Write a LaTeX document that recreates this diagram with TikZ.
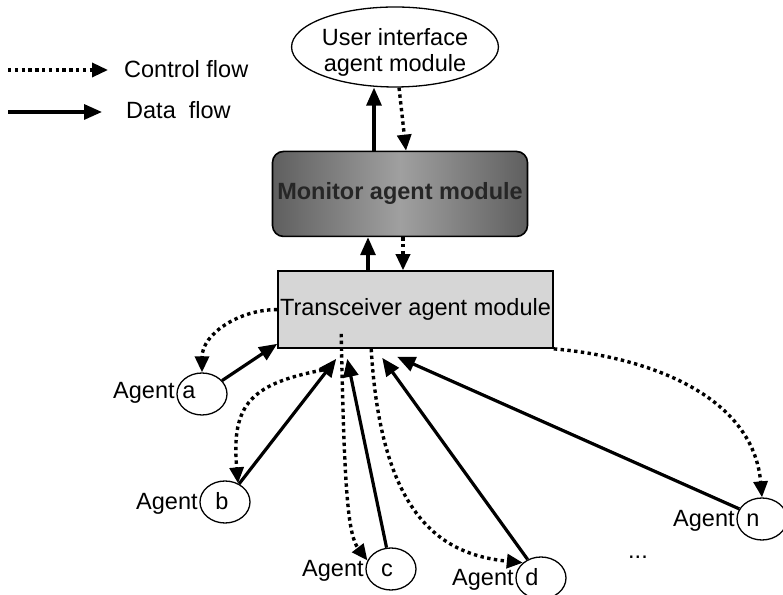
\documentclass[tikz,border=0pt]{standalone}
\usepackage{fontspec}
\setmainfont{Liberation Sans}
\usepackage{xcolor}
\definecolor{mondark}{RGB}{95,95,95}
\definecolor{monlight}{RGB}{160,160,160}
\definecolor{trfill}{RGB}{214,214,214}
\usepackage{tikz}
\usetikzlibrary{shapes.geometric, arrows.meta, positioning, calc}
\newcommand{\diagfont}{\fontsize{23.5bp}{26bp}\selectfont}
\tikzset{
  lbl/.style={font=\diagfont, inner sep=0pt},
  uimodule/.style={ellipse, draw, line width=1.3bp, minimum width=205bp,
    minimum height=80bp, inner sep=0pt, align=center, font=\diagfont,
    text height=50bp, text depth=0pt},
  monmodule/.style={draw=black, line width=1.6bp, rounded corners=11bp,
    left color=mondark, right color=mondark, middle color=monlight,
    minimum width=255bp, minimum height=85bp, inner sep=0pt,
    font=\diagfont\bfseries, text=black!85},
  trmodule/.style={draw, line width=1.6bp, fill=trfill,
    minimum width=275bp, minimum height=77bp, inner sep=0pt, font=\diagfont},
  agentell/.style={ellipse, draw, line width=1.3bp, minimum width=50bp,
    minimum height=42bp, inner sep=0pt},
  dataarrow/.style={-{Triangle[length=18bp,width=15bp]}, line width=3.2bp},
  ctrlarrow/.style={-{Triangle[length=16bp,width=14bp]}, line width=3.4bp,
    dash pattern=on 3.4bp off 3.4bp}
}

\begin{document}
\begin{tikzpicture}[x=1bp, y=1bp]
  \useasboundingbox (0,0) rectangle (783,595);

  % legend
  \coordinate (lgc-a) at (8,525);
  \coordinate (lgc-b) at (108,525);
  \coordinate (lgd-a) at (8,483);
  \coordinate (lgd-b) at (102,483);
  \node[lbl, anchor=base west] (lgc) at (124,517) {Control flow};
  \node[lbl, anchor=base west] (lgd) at (126,476) {Data\ \ flow};
  \draw[ctrlarrow] (lgc-a) -- (lgc-b);
  \draw[dataarrow] (lgd-a) -- (lgd-b);

  % modules
  \node[uimodule] (ui) at (395,548) {User interface\\agent module};
  \node[monmodule, below=63bp of ui, xshift=5bp] (mon) {Monitor agent module};
  \node[trmodule, below=33bp of mon, xshift=15.5bp] (tr) {Transceiver agent module};

  \draw[dataarrow] ([xshift=-26bp]mon.north) -- ([xshift=-26bp]mon.north |- ui.south);
  \draw[ctrlarrow] ([xshift=4bp]ui.south) -- ([xshift=6bp]mon.north);
  \draw[dataarrow] ([xshift=-47.5bp]tr.north) -- ([xshift=-47.5bp]tr.north |- mon.south);
  \draw[ctrlarrow] ([xshift=3bp]mon.south) -- ([xshift=3bp]mon.south |- tr.north);

  % agents
  \foreach \nm/\px/\py/\dx/\dy in {a/202/201/-13/-5, b/225/93/-3/-8,
      c/391/26/-4/-8, d/541/17/-9/-8, n/762/76/-9/-8} {
    \node[agentell] (ag-\nm) at (\px,\py) {};
    \node[lbl, anchor=base] (agt-\nm) at ([shift={(\dx,\dy)}]ag-\nm.center) {\nm};
    \node[lbl, anchor=base east, inner xsep=1.5bp] (agl-\nm)
      at (agt-\nm.base -| ag-\nm.west) {Agent};
  }
  \node[lbl, anchor=base] (more) at (638,36) {...};

  % data flow
  \draw[dataarrow] (ag-a) -- ([yshift=5bp]tr.south west);
  \draw[dataarrow] (ag-b) -- ([shift={(59,-10)}]tr.south west);
  \draw[dataarrow] (ag-c) -- ([shift={(70,-10)}]tr.south west);
  \draw[dataarrow] (ag-d) -- ([shift={(105,-9)}]tr.south west);
  \draw[dataarrow] (ag-n) -- ([shift={(120,-8)}]tr.south west);

  % control flow
  \draw[ctrlarrow] (tr.west) to[out=180, in=90] (ag-a.north);
  \draw[ctrlarrow] ([shift={(52,-20)}]tr.south west)
    to[out=190, in=95, looseness=1.4] (ag-b.55);
  \draw[ctrlarrow] ([shift={(64,15)}]tr.south west)
    .. controls +(3,-150) and +(-20,26) .. (ag-c.160);
  \draw[ctrlarrow] ([xshift=94bp]tr.south west)
    .. controls +(10,-170) and +(-80,8) .. (ag-d.140);
  \draw[ctrlarrow] (tr.south east) to[out=-5, in=95] (ag-n.north);
\end{tikzpicture}
\end{document}
